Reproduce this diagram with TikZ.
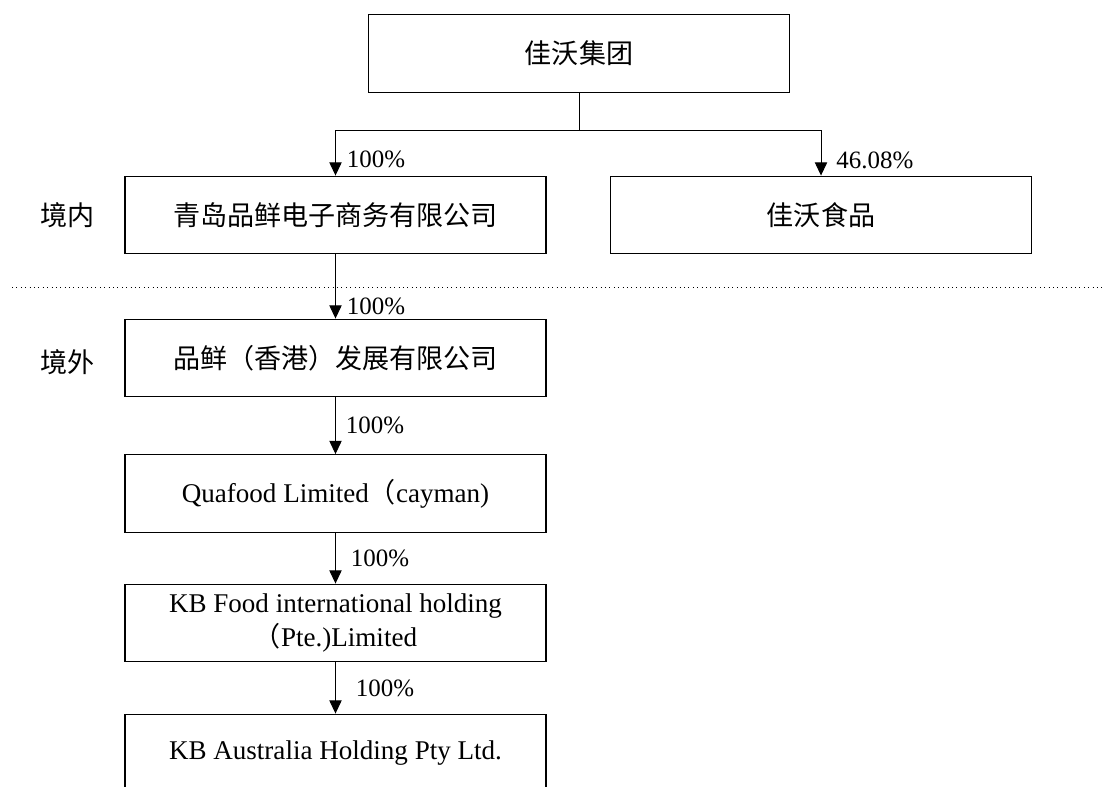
\documentclass[tikz,border=0pt]{standalone}
\usepackage{fontspec}
\setmainfont{Liberation Serif}
\newfontfamily\cjk{Noto Sans CJK SC}
\usetikzlibrary{arrows.meta,calc}

\begin{document}
\begin{tikzpicture}[x=0.02cm, y=-0.02cm,
    entity/.style={draw, line width=0.8pt, minimum width=8.42cm, minimum height=1.55cm, inner sep=0pt, align=center, font=\fontsize{15.4}{19.9}\selectfont},
    link/.style={line width=0.5pt, -{Triangle[length=7.5pt, width=7pt]}},
    pct/.style={font=\fontsize{14.2}{17}\selectfont, inner sep=0pt},
    region/.style={font=\cjk\fontsize{15.4}{19.9}\selectfont}]

	% Page frame
	\clip (0,0) rectangle (1102,787);

	% Companies
	\node[entity] (group) at (579,53.5) {\cjk 佳沃集团};
	\node[entity] (pinxian) at (335.5,215) {\cjk 青岛品鲜电子商务有限公司};
	\node[entity] (jwfood) at (821,215) {\cjk 佳沃食品};
	\node[entity] (hk) at (335.5,358) {\cjk 品鲜（香港）发展有限公司};
	\node[entity] (cayman) at (335.5,493.5) {Quafood Limited{\cjk （}cayman)};
	\node[entity] (kbfood) at (335.5,623) {KB Food international holding\\{\cjk （}Pte.)Limited};
	\node[entity] (kbau) at (335.5,753) {KB Australia Holding Pty Ltd.};

	% Regions
	\node[region] (inland) at (67.5,215) {境内};
	\node[region] (abroad) at (67.5,362) {境外};
	\draw[dotted, line width=0.5pt] (12,287) coordinate (border_w) -- (1102,287) coordinate (border_e);

	% Ownership links
	\coordinate (split) at ($(group.south)+(0,37)$);
	\draw[line width=0.5pt] (group.south) -- (split);
	\draw[link] (split) -| (pinxian.north) node[pct, anchor=base west, xshift=0.22cm, yshift=0.16cm] {100\%};
	\draw[link] (split) -| (jwfood.north) node[pct, anchor=base west, xshift=0.3cm, yshift=0.14cm] {46.08\%};
	\draw[link] (pinxian) -- (hk) node[pct, pos=1, anchor=base west, xshift=0.22cm, yshift=0.08cm] {100\%};
	\draw[link] (hk) -- (cayman) node[pct, midway, anchor=west, xshift=0.2cm] {100\%};
	\draw[link] (cayman) -- (kbfood) node[pct, midway, anchor=west, xshift=0.3cm] {100\%};
	\draw[link] (kbfood) -- (kbau) node[pct, midway, anchor=west, xshift=0.4cm] {100\%};

\end{tikzpicture}
\end{document}
